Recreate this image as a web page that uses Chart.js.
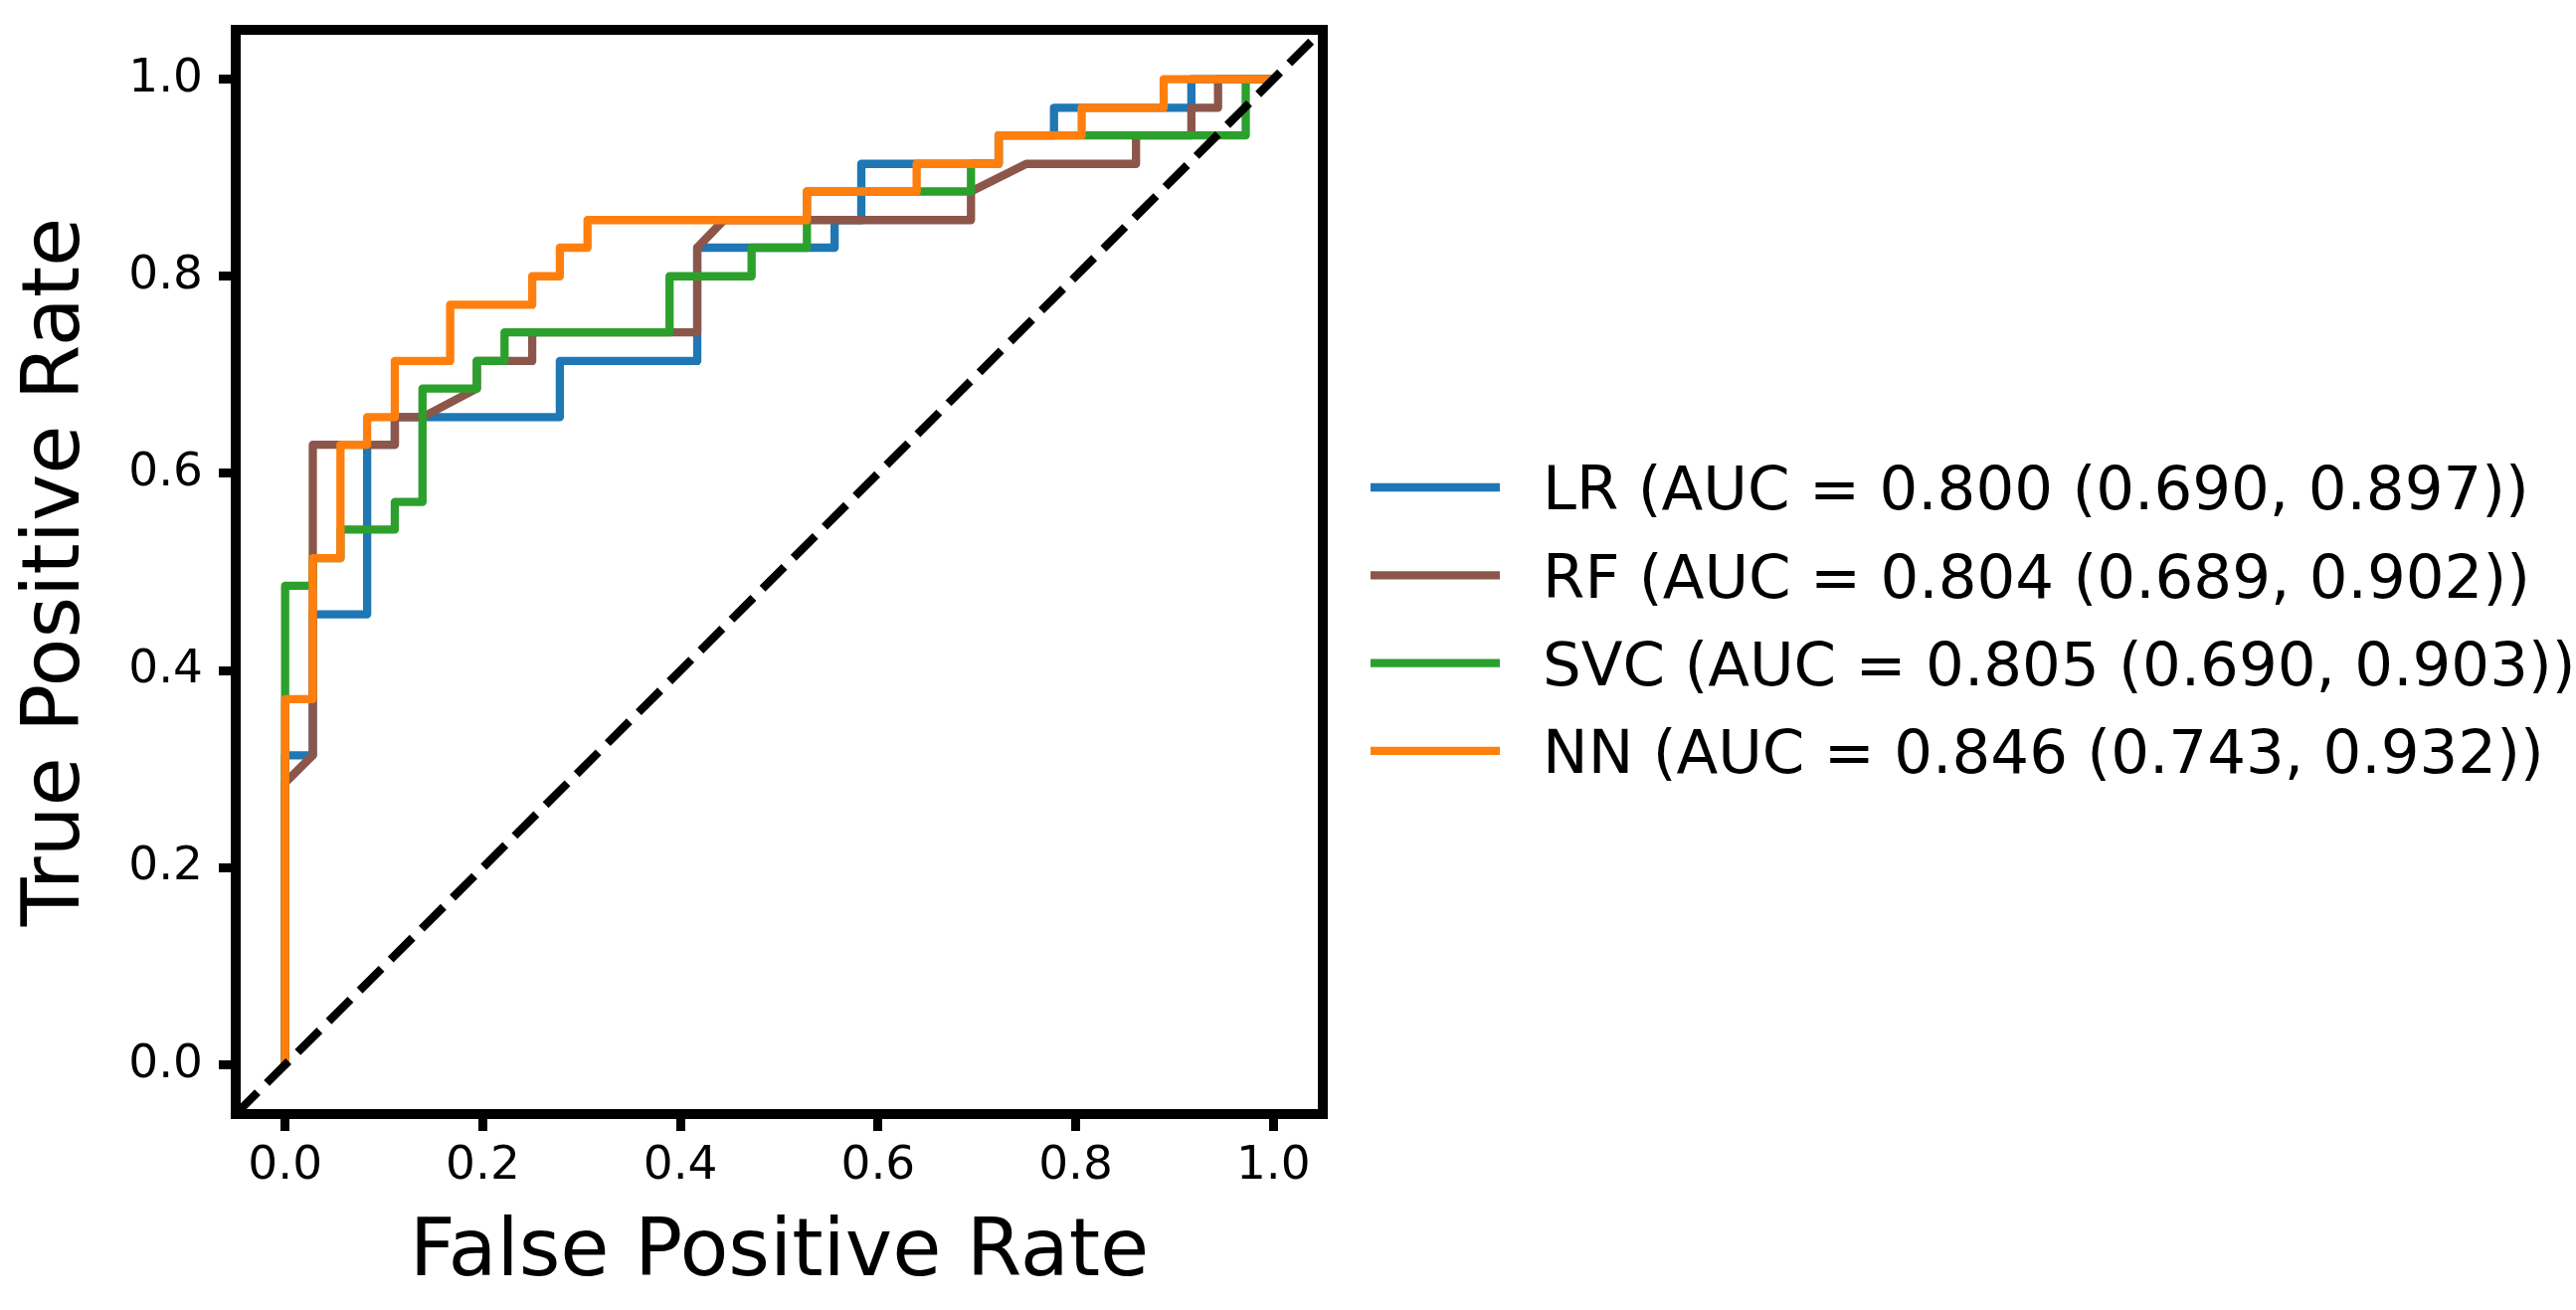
<!DOCTYPE html>
<html>
<head>
<meta charset="utf-8">
<script src="https://cdn.jsdelivr.net/npm/chart.js@4"></script>
<style>
html, body { margin: 0; padding: 0; background: #ffffff; }
canvas { display: block; }
</style>
</head>
<body>
<canvas id="roc" width="2590" height="1317" style="width:2590px;height:1317px"></canvas>
<script>
// ---- data ----
const tickValues = [0, 0.2, 0.4, 0.6, 0.8, 1.0];
const tickLabels = ['0.0', '0.2', '0.4', '0.6', '0.8', '1.0'];
const seriesNames = ['LR', 'RF', 'SVC', 'NN'];
const aucTexts = ['0.800 (0.690, 0.897)', '0.804 (0.689, 0.902)', '0.805 (0.690, 0.903)', '0.846 (0.743, 0.932)'];
const seriesColors = ['#1f77b4', '#8c564b', '#2ca02c', '#ff7f0e'];

const lrFpr = [0, 0, 0.028, 0.028, 0.083, 0.083, 0.111, 0.111, 0.278, 0.278, 0.417, 0.417, 0.556, 0.556, 0.583, 0.583, 0.722, 0.722, 0.778, 0.778, 0.917, 0.917, 1];
const lrTpr = [0, 0.314, 0.314, 0.457, 0.457, 0.629, 0.629, 0.657, 0.657, 0.714, 0.714, 0.829, 0.829, 0.857, 0.857, 0.914, 0.914, 0.943, 0.943, 0.971, 0.971, 1, 1];

const rfFpr = [0, 0, 0.028, 0.028, 0.111, 0.111, 0.139, 0.194, 0.194, 0.25, 0.25, 0.417, 0.417, 0.444, 0.694, 0.694, 0.75, 0.861, 0.861, 0.917, 0.917, 0.944, 0.944, 1];
const rfTpr = [0, 0.286, 0.314, 0.629, 0.629, 0.657, 0.657, 0.686, 0.714, 0.714, 0.743, 0.743, 0.829, 0.857, 0.857, 0.886, 0.914, 0.914, 0.943, 0.943, 0.971, 0.971, 1, 1];

const svcFpr = [0, 0, 0.028, 0.028, 0.056, 0.056, 0.111, 0.111, 0.139, 0.139, 0.194, 0.194, 0.222, 0.222, 0.389, 0.389, 0.472, 0.472, 0.528, 0.528, 0.694, 0.694, 0.722, 0.722, 0.972, 0.972, 1];
const svcTpr = [0, 0.486, 0.486, 0.514, 0.514, 0.543, 0.543, 0.571, 0.571, 0.686, 0.686, 0.714, 0.714, 0.743, 0.743, 0.8, 0.8, 0.829, 0.829, 0.886, 0.886, 0.914, 0.914, 0.943, 0.943, 1, 1];

const nnFpr = [0, 0, 0.028, 0.028, 0.056, 0.056, 0.083, 0.083, 0.111, 0.111, 0.167, 0.167, 0.25, 0.25, 0.278, 0.278, 0.306, 0.306, 0.528, 0.528, 0.639, 0.639, 0.722, 0.722, 0.806, 0.806, 0.889, 0.889, 1];
const nnTpr = [0, 0.371, 0.371, 0.514, 0.514, 0.629, 0.629, 0.657, 0.657, 0.714, 0.714, 0.771, 0.771, 0.8, 0.8, 0.829, 0.829, 0.857, 0.857, 0.886, 0.886, 0.914, 0.914, 0.943, 0.943, 0.971, 0.971, 1, 1];

const chanceLine = [-0.05, 1.05];

// ---- chart ----
function toPoints(xs, ys) { return xs.map((x, i) => ({ x: x, y: ys[i] })); }

const FONT = '"DejaVu Sans", "Liberation Sans", sans-serif';
Chart.defaults.font.family = FONT;
Chart.defaults.color = '#000';

const curveStyle = (i, order) => ({
  borderColor: seriesColors[i],
  backgroundColor: seriesColors[i],
  borderWidth: 8.3,
  pointRadius: 0,
  pointHoverRadius: 0,
  showLine: true,
  fill: false,
  tension: 0,
  borderJoinStyle: 'round',
  borderCapStyle: 'butt',
  order: order
});

const datasets = [
  Object.assign({ label: 'chance', data: toPoints(chanceLine, chanceLine) }, {
    borderColor: '#000', borderWidth: 8.3, borderDash: [31, 13], pointRadius: 0, showLine: true, fill: false, order: 0, borderCapStyle: 'butt'
  }),
  Object.assign({ label: seriesNames[3], data: toPoints(nnFpr, nnTpr) }, curveStyle(3, 1)),
  Object.assign({ label: seriesNames[2], data: toPoints(svcFpr, svcTpr) }, curveStyle(2, 2)),
  Object.assign({ label: seriesNames[1], data: toPoints(rfFpr, rfTpr) }, curveStyle(1, 3)),
  Object.assign({ label: seriesNames[0], data: toPoints(lrFpr, lrTpr) }, curveStyle(0, 4))
];

const whiteBg = {
  id: 'whiteBg',
  beforeDraw(chart) {
    const c = chart.ctx;
    c.save();
    c.fillStyle = '#ffffff';
    c.fillRect(0, 0, chart.width, chart.height);
    c.restore();
  }
};

const frame = {
  id: 'frame',
  afterDatasetsDraw(chart) {
    const a = chart.chartArea, c = chart.ctx;
    c.save();
    c.strokeStyle = '#000';
    c.lineWidth = 10;
    c.lineJoin = 'miter';
    c.strokeRect(a.left, a.top, a.right - a.left, a.bottom - a.top);
    c.restore();
  }
};

const sideLegend = {
  id: 'sideLegend',
  afterDraw(chart) {
    const c = chart.ctx;
    c.save();
    c.font = '61px ' + FONT;
    c.textBaseline = 'alphabetic';
    c.textAlign = 'left';
    for (let i = 0; i < seriesNames.length; i++) {
      const cy = 490 + i * 88.3;
      c.strokeStyle = seriesColors[i];
      c.lineWidth = 8.3;
      c.lineCap = 'butt';
      c.beginPath();
      c.moveTo(1378, cy);
      c.lineTo(1508, cy);
      c.stroke();
      c.fillStyle = '#000';
      c.fillText(seriesNames[i] + ' (AUC = ' + aucTexts[i] + ')', 1551, cy + 22.3);
    }
    c.restore();
  }
};

const axisCommon = (titleText, titlePad, tickPad) => ({
  type: 'linear',
  min: -0.05,
  max: 1.05,
  afterBuildTicks: (s) => { s.ticks = tickValues.map(v => ({ value: v })); },
  ticks: {
    callback: (v, i) => tickLabels[i],
    font: { family: FONT, size: 47 },
    color: '#000',
    padding: tickPad,
    maxRotation: 0,
    minRotation: 0,
    autoSkip: false
  },
  grid: {
    display: true,
    drawOnChartArea: false,
    drawTicks: true,
    tickLength: 17,
    tickWidth: 9,
    tickColor: '#000'
  },
  border: { display: false },
  title: {
    display: true,
    text: titleText,
    font: { family: FONT, size: 80 },
    color: '#000',
    padding: titlePad
  }
});

const xAxis = Object.assign(axisCommon('False Positive Rate', { top: 0, bottom: 8 }, 8), {
  position: 'bottom',
  afterFit: (s) => { s.height = 197; s.paddingLeft = 0; s.paddingRight = 0; }
});
const yAxis = Object.assign(axisCommon('True Positive Rate', { top: 10, bottom: 0 }, 16), {
  position: 'left',
  afterFit: (s) => { s.width = 237; s.paddingTop = 0; s.paddingBottom = 0; }
});

new Chart(document.getElementById('roc'), {
  type: 'scatter',
  data: { datasets: datasets },
  options: {
    responsive: false,
    devicePixelRatio: 1,
    animation: false,
    events: [],
    layout: { padding: { left: 0, top: 30, right: 1260, bottom: 0 } },
    plugins: {
      legend: { display: false },
      tooltip: { enabled: false }
    },
    scales: { x: xAxis, y: yAxis }
  },
  plugins: [whiteBg, frame, sideLegend]
});
</script>
</body>
</html>
